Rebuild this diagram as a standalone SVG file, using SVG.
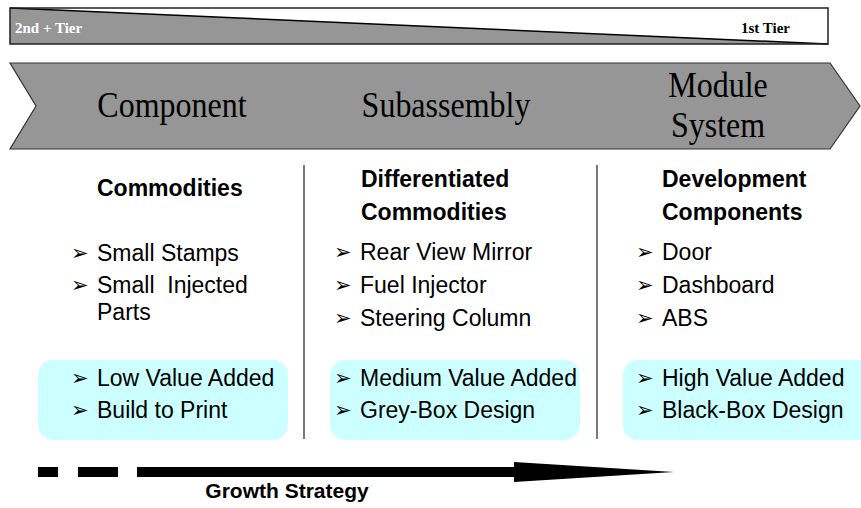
<svg xmlns="http://www.w3.org/2000/svg" width="861" height="508" viewBox="0 0 861 508">
<style>
.serif{font-family:"Liberation Serif","Times New Roman",serif;}
.sans{font-family:"Liberation Sans",Arial,sans-serif;fill:#000;}
.head{font-weight:bold;font-size:23px;}
.item{font-size:23px;}
.bul{font-family:"DejaVu Sans",sans-serif;font-size:21px;fill:#000;}
.stage{font-size:32px;fill:#000;}
.box{fill:#CCFFFF;}
.div{stroke:#222;stroke-width:1.2;}
</style>
<rect width="861" height="508" fill="#fff"/>
<g id="tier-bar">
  <rect x="10" y="8" width="818" height="36" fill="#fff"/>
  <polygon points="10,8 828,44 10,44" fill="#969696"/>
  <line x1="10" y1="8" x2="828" y2="44" stroke="#000" stroke-width="1.5"/>
  <rect x="10" y="8" width="818" height="36" fill="none" stroke="#222" stroke-width="1.5"/>
  <text x="15" y="33" class="serif" font-weight="bold" font-size="15" fill="#fff">2nd + Tier</text>
  <text x="790" y="33" class="serif" font-weight="bold" font-size="15" fill="#000" text-anchor="end">1st Tier</text>
</g>
<g id="chevron">
  <polygon points="10,63 830,63 860,106 830,149 10,149 36,106" fill="#969696" stroke="#333" stroke-width="1.2"/>
  <text transform="translate(172,117) scale(1,1.15)" class="serif stage" text-anchor="middle">Component</text>
  <text transform="translate(446,117) scale(1,1.15)" class="serif stage" text-anchor="middle">Subassembly</text>
  <text transform="translate(718,97) scale(1,1.15)" class="serif stage" text-anchor="middle">Module</text>
  <text transform="translate(718,137) scale(1,1.15)" class="serif stage" text-anchor="middle">System</text>
</g>
<g id="dividers">
  <line x1="304" y1="165" x2="304" y2="439" class="div"/>
  <line x1="597" y1="165" x2="597" y2="439" class="div"/>
</g>
<g id="col-component">
  <text x="97" y="196" class="sans head">Commodities</text>
  <text x="71" y="260" class="bul">➢</text><text x="97" y="261" class="sans item">Small Stamps</text>
  <text x="71" y="292" class="bul">➢</text><text x="97" y="293" class="sans item" xml:space="preserve">Small  Injected</text>
  <text x="97" y="320" class="sans item">Parts</text>
</g>
<g id="col-subassembly">
  <text x="361" y="187" class="sans head">Differentiated</text>
  <text x="361" y="220" class="sans head">Commodities</text>
  <text x="334" y="259" class="bul">➢</text><text x="360" y="260" class="sans item">Rear View Mirror</text>
  <text x="334" y="292" class="bul">➢</text><text x="360" y="293" class="sans item">Fuel Injector</text>
  <text x="334" y="325" class="bul">➢</text><text x="360" y="326" class="sans item">Steering Column</text>
</g>
<g id="col-module">
  <text x="662" y="187" class="sans head">Development</text>
  <text x="662" y="220" class="sans head">Components</text>
  <text x="636" y="259" class="bul">➢</text><text x="662" y="260" class="sans item">Door</text>
  <text x="636" y="292" class="bul">➢</text><text x="662" y="293" class="sans item">Dashboard</text>
  <text x="636" y="325" class="bul">➢</text><text x="662" y="326" class="sans item">ABS</text>
</g>
<g id="box-low">
  <rect x="38" y="360" width="250" height="80" rx="15" class="box"/>
  <text x="71" y="385" class="bul">➢</text><text x="97" y="386" class="sans item">Low Value Added</text>
  <text x="71" y="417" class="bul">➢</text><text x="97" y="418" class="sans item">Build to Print</text>
</g>
<g id="box-medium">
  <rect x="330" y="360" width="250" height="80" rx="15" class="box"/>
  <text x="334" y="385" class="bul">➢</text><text x="360" y="386" class="sans item">Medium Value Added</text>
  <text x="334" y="417" class="bul">➢</text><text x="360" y="418" class="sans item">Grey-Box Design</text>
</g>
<g id="box-high">
  <rect x="623" y="360" width="250" height="80" rx="15" class="box"/>
  <text x="636" y="385" class="bul">➢</text><text x="662" y="386" class="sans item">High Value Added</text>
  <text x="636" y="417" class="bul">➢</text><text x="662" y="418" class="sans item">Black-Box Design</text>
</g>
<g id="connectors">
  <rect x="38" y="467" width="20" height="10" fill="#000"/>
  <rect x="78" y="467" width="40" height="10" fill="#000"/>
  <rect x="137" y="467" width="379" height="10" fill="#000"/>
  <polygon points="514,462 674,472 514,482" fill="#000"/>
</g>
<g id="growth-label">
  <text x="287" y="498" class="sans" font-weight="bold" font-size="21" text-anchor="middle">Growth Strategy</text>
</g>
</svg>
